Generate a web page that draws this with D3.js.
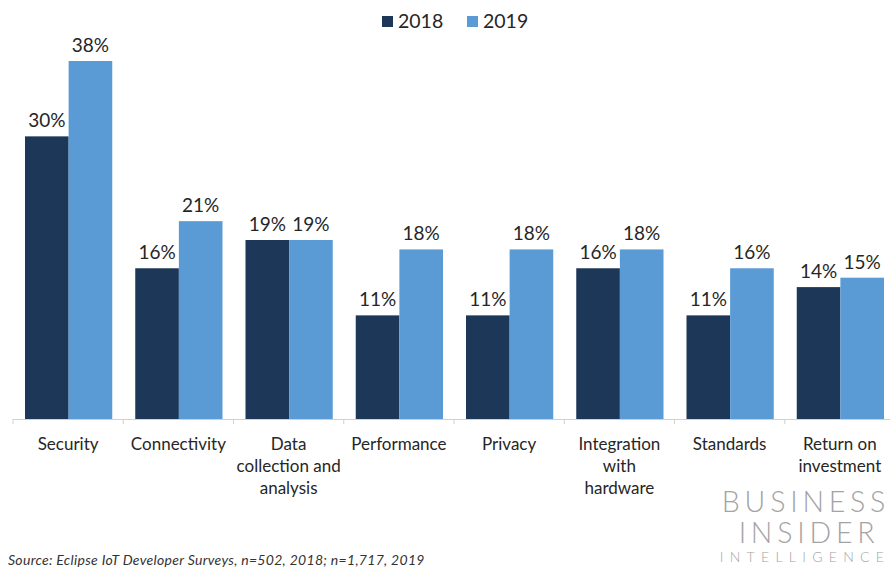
<!DOCTYPE html>
<head>
  <meta charset="utf-8">
  <script src="https://d3js.org/d3.v7.min.js"></script>
  <style>
    body { margin: 0; background: #fff; }
    svg { display: block; font-family: Lato, "Open Sans", sans-serif; }
  </style>
</head>
<body>
  <svg width="890" height="571"></svg>
  <script>
    // data
    var categories = ["Security", "Connectivity", "Data collection and analysis", "Performance",
      "Privacy", "Integration with hardware", "Standards", "Return on investment"];
    var catLines = [["Security"], ["Connectivity"], ["Data", "collection and", "analysis"], ["Performance"],
      ["Privacy"], ["Integration", "with", "hardware"], ["Standards"], ["Return on", "investment"]];
    var series = ["2018", "2019"];
    var values2018 = [30, 16, 19, 11, 11, 16, 11, 14];
    var values2019 = [38, 21, 19, 18, 18, 18, 16, 15];
    var colors = ["#1c3757", "#5b9bd5"];

    var svg = d3.select("svg");
    var baseY = 419;

    var x = d3.scaleBand().domain(categories).range([13, 895]).paddingInner(0).paddingOuter(0);
    var xs = d3.scaleBand().domain(series).range([12, x.bandwidth() - 11]);
    var y = d3.scaleLinear().domain([0, 38]).range([baseY, 61]);

    var rows = categories.map(function(c, i) {
      return { cat: c, vals: [values2018[i], values2019[i]] };
    });

    var g = svg.selectAll("g.cat").data(rows).enter().append("g")
      .attr("class", "cat")
      .attr("transform", function(d) { return "translate(" + x(d.cat) + ",0)"; });

    g.selectAll("rect").data(function(d) { return d.vals.map(function(v, j) { return { s: series[j], v: v, j: j }; }); })
      .enter().append("rect")
      .attr("x", function(d) { return xs(d.s); })
      .attr("y", function(d) { return y(d.v); })
      .attr("width", xs.bandwidth())
      .attr("height", function(d) { return baseY - y(d.v); })
      .attr("fill", function(d) { return colors[d.j]; });

    g.selectAll("text.val").data(function(d) { return d.vals.map(function(v, j) { return { s: series[j], v: v }; }); })
      .enter().append("text")
      .attr("class", "val")
      .attr("x", function(d) { return xs(d.s) + xs.bandwidth() / 2; })
      .attr("y", function(d) { return y(d.v) - 9; })
      .attr("text-anchor", "middle")
      .attr("font-size", 19)
      .attr("fill", "#262626")
      .text(function(d) { return d.v + "%"; });

    // axis
    var xAxis = d3.axisBottom(x).tickSize(0).tickFormat("");
    var ax = svg.append("g").attr("transform", "translate(0," + baseY + ")").call(xAxis);
    ax.select(".domain").attr("stroke", "#d0d0d0").attr("d", "M13,0.5H890");
    ax.selectAll(".tick").remove();
    ax.selectAll("line.t").data(categories).enter().append("line")
      .attr("x1", function(d) { return x(d); }).attr("x2", function(d) { return x(d); })
      .attr("y1", 0).attr("y2", 5).attr("stroke", "#d0d0d0");

    // category labels
    svg.selectAll("text.cat").data(categories).enter().append("text")
      .attr("class", "cat")
      .attr("x", function(d) { return x(d) + x.bandwidth() / 2; })
      .attr("y", 450)
      .attr("text-anchor", "middle")
      .attr("font-size", 17)
      .attr("fill", "#262626")
      .each(function(d, i) {
        var t = d3.select(this);
        catLines[i].forEach(function(line, k) {
          t.append("tspan").attr("x", x(d) + x.bandwidth() / 2).attr("dy", k ? 22 : 0).text(line);
        });
      });

    // legend
    var leg = svg.append("g").attr("transform", "translate(382,0)");
    series.forEach(function(s, i) {
      var lg = leg.append("g").attr("transform", "translate(" + (i * 85) + ",0)");
      lg.append("rect").attr("x", 0).attr("y", 16).attr("width", 11).attr("height", 11).attr("fill", colors[i]);
      lg.append("text").attr("x", 16).attr("y", 28).attr("font-size", 19.5).attr("fill", "#262626").text(s);
    });

    // source
    svg.append("text").attr("x", 8).attr("y", 565)
      .attr("font-size", 14).attr("font-style", "italic").attr("letter-spacing", 0.3).attr("fill", "#333")
      .text("Source: Eclipse IoT Developer Surveys, n=502, 2018; n=1,717, 2019");

    // logo
    var logo = svg.append("g").attr("fill", "#a3a3a3").attr("text-anchor", "middle").attr("font-weight", 300);
    logo.append("text").attr("x", 806).attr("y", 512).attr("font-size", 28.5).attr("letter-spacing", 4.8).text("BUSINESS");
    logo.append("text").attr("x", 809).attr("y", 543).attr("font-size", 28.5).attr("letter-spacing", 4.8).text("INSIDER");
    logo.append("text").attr("x", 805).attr("y", 562).attr("font-size", 14).attr("letter-spacing", 6.3).text("INTELLIGENCE");
  </script>
</body>
</html>
